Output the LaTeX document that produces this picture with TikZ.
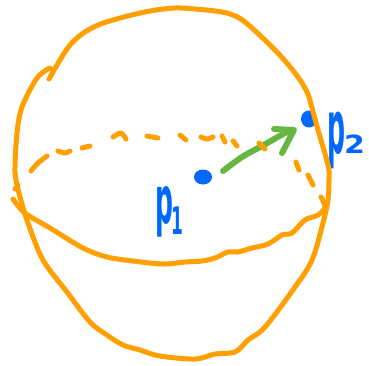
\documentclass[tikz,border=0pt]{standalone}
\usepackage{fontspec}
\setmainfont{DejaVu Sans}
\definecolor{inkorange}{HTML}{FF9F00}
\definecolor{inkblue}{HTML}{0068FF}
\definecolor{inkgreen}{HTML}{66B63F}
\tikzset{
  pen/.style={line width=#1,line cap=round,line join=round},
  orangeink/.style={draw=inkorange,pen=5pt},
  dashink/.style={draw=inkorange,pen=5pt},
  greenink/.style={draw=inkgreen,pen=6pt},
  blueink/.style={fill=inkblue,draw=none},
  labelink/.style={text=inkblue,inner sep=0pt,outer sep=0pt,anchor=base west}
}
\newcommand{\handp}[2]{\scalebox{#2}[1]{\fontsize{#1}{#1}\selectfont\bfseries p}}
\begin{document}
\begin{tikzpicture}[x=1pt,y=-1pt]
\useasboundingbox (0,0) rectangle (369,365);
% points
\fill[blueink] (203,177) ellipse (9 and 7.5);
\fill[blueink] (309,119) ellipse (8 and 8.5);
% labels
\node[labelink] (pone) at (155,223) {\handp{66pt}{0.38}\hspace{-1pt}\raisebox{-11pt}{\scalebox{0.45}[1]{\fontsize{38pt}{38pt}\selectfont\bfseries 1}}};
\node[labelink] (ptwo) at (327,153) {\handp{74pt}{0.34}\hspace{-1pt}\raisebox{0pt}{\scalebox{1.2}[1]{\fontsize{25pt}{25pt}\selectfont\bfseries 2}}};
% green arrow
\draw[greenink] plot[smooth,tension=.6] coordinates {(223,171) (242,157) (262,146) (285,133) (293,130)};
\draw[greenink] (274,129) -- (294,130) -- (282,153);
% outer outline
\draw[orangeink] plot[smooth,tension=.55] coordinates {
 (49,79) (60,60) (70,45) (82,34) (98,25) (120,18) (150,11) (175,8) (195,9) (215,11) (230,14) (245,22)
 (275,50) (295,73) (307,92) (312,108) (318,130) (328,165) (329,180) (328,200) (323,223) (312,260)
 (295,287) (265,327) (248,340) (235,352) (215,354) (195,359) (160,356) (140,350) (123,345) (107,335)
 (90,322) (67,292) (43,260) (28,223) (20,197) (16,180) (15,167) (17,133) (22,107) (37,78) (50,68)};
% equator, solid part
\draw[orangeink] plot[smooth,tension=.55] coordinates {
 (13,199) (25,213) (50,228) (83,248) (107,257) (133,261) (163,264) (185,262) (202,261) (215,258)
 (228,252) (238,252) (252,248) (268,244) (282,235) (292,233) (305,220) (318,215) (325,207) (321,197)};
% equator, dashed part
\draw[dashink] (15,189) -- (18,185);
\draw[dashink] plot[smooth] coordinates {(31,171) (38,163) (47,156)};
\draw[dashink] plot[smooth] coordinates {(58,151) (65,153) (70,151)};
\draw[dashink] (82,148) -- (90,146);
\draw[dashink] plot[smooth] coordinates {(113,137) (121,133) (126,139)};
\draw[dashink] (147,136) -- (158,138);
\draw[dashink] (180,135) -- (186,140);
\draw[dashink] plot[smooth] coordinates {(201,137) (207,139) (213,137)};
\draw[dashink] (222,136) -- (225,142);
\draw[dashink] (233,141) -- (237,146);
\draw[dashink] (259,143) -- (265,149);
\draw[dashink] (296,162) -- (299,170);
\draw[dashink] (308,175) -- (313,185);
\end{tikzpicture}
\end{document}
